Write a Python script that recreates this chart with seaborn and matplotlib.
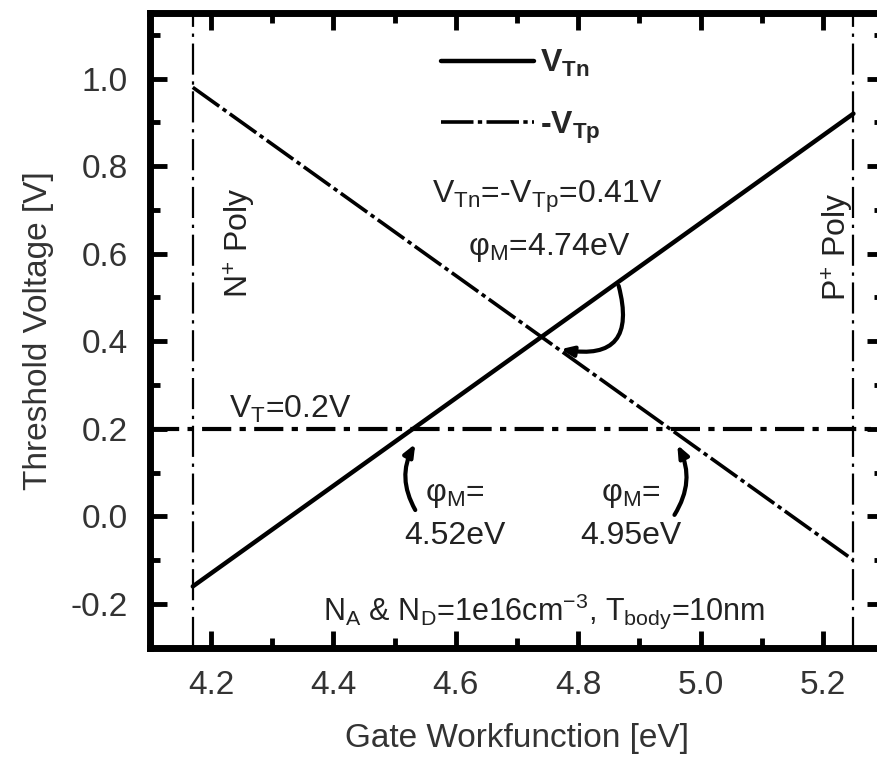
import numpy as np
import pandas as pd
import matplotlib
matplotlib.use("Agg")
import matplotlib.pyplot as plt
import seaborn as sns

sns.set_theme(style="ticks")
plt.rcParams['font.family'] = ['Liberation Sans', 'DejaVu Sans']
plt.rcParams['mathtext.fontset'] = 'custom'
plt.rcParams['mathtext.rm'] = 'Liberation Sans'
plt.rcParams['mathtext.it'] = 'Liberation Sans:italic'
plt.rcParams['mathtext.bf'] = 'Liberation Sans:bold'
plt.rcParams['mathtext.default'] = 'regular'

''' Data read off the figure '''
phi_m = [4.17, 4.52, 4.74, 4.95, 5.25]
v_tn = [-0.16, 0.19, 0.41, 0.62, 0.92]
neg_v_tp = [0.98, 0.63, 0.41, 0.20, -0.10]
v_t_target = 0.2
n_poly = 4.17
p_poly = 5.25
x_ticks = [4.2, 4.4, 4.6, 4.8, 5.0, 5.2]
y_ticks = [-0.2, 0.0, 0.2, 0.4, 0.6, 0.8, 1.0]

df = pd.DataFrame({'phi': phi_m, 'vtn': v_tn, 'vtp': neg_v_tp})

fig = plt.figure(figsize=(8.77, 7.62), dpi=100)
ax = fig.add_axes([0.171, 0.150, 0.837, 0.833])

sns.lineplot(data=df, x='phi', y='vtn', color='black', lw=3.2, ax=ax,
             label=r'$\mathbf{V_{Tn}}$')
sns.lineplot(data=df, x='phi', y='vtp', color='black', lw=2.6, ax=ax,
             label=r'-$\mathbf{V_{Tp}}$', dashes=False)
ax.lines[1].set_dashes([9, 1.2, 1.2, 1.2])

# reference lines
ax.axhline(v_t_target, color='black', lw=3, dashes=[7, 2, 1.5, 2])
for xv in (n_poly, p_poly):
    ax.axvline(xv, color='black', lw=1.6, dashes=[14, 3, 1.5, 3])

ax.set_xlim(4.1, 5.3)
ax.set_ylim(-0.3, 1.15)
ax.set_xticks(x_ticks)
ax.set_yticks(y_ticks)
ax.set_xticks(np.arange(4.1, 5.31, 0.1), minor=True)
ax.set_yticks(np.arange(-0.3, 1.16, 0.1), minor=True)
ax.set_xticklabels(['%.1f' % v for v in x_ticks])
ax.set_yticklabels(['%.1f' % v for v in y_ticks])
ax.tick_params(which='both', direction='in', top=True, right=True,
               labelsize=24, width=3.5, colors='black', labelcolor='#333333')
ax.tick_params(which='major', length=12, pad=16)
ax.tick_params(which='minor', length=7)
for s in ax.spines.values():
    s.set_linewidth(5)
    s.set_color('black')

ax.set_xlabel('Gate Workfunction [eV]', fontsize=24, color='#333333', labelpad=16)
ax.set_ylabel('Threshold Voltage [V]', fontsize=24, color='#333333', labelpad=12)

leg = ax.legend(loc='upper left', bbox_to_anchor=(0.375, 0.97), frameon=False,
                prop={'weight': 'bold', 'size': 23}, handlelength=2.9,
                handletextpad=0.2, labelspacing=0.95, borderpad=0)

tc = '#222222'
ax.text(4.247, 0.626, 'N$^{+}$ Poly', rotation=90, fontsize=23, color=tc,
        ha='center', va='center')
ax.text(5.225, 0.615, 'P$^{+}$ Poly', rotation=90, fontsize=23, color=tc,
        ha='center', va='center')
ax.text(4.75, 0.73, 'V$_{Tn}$=-V$_{Tp}$=0.41V', fontsize=23, color=tc,
        ha='center', va='center')
ax.text(4.753, 0.615, 'φ$_{M}$=4.74eV', fontsize=23, color=tc,
        ha='center', va='center')
ax.text(4.23, 0.245, 'V$_{T}$=0.2V', fontsize=23, color=tc,
        ha='left', va='center')
ax.text(4.598, 0.049, 'φ$_{M}$=', fontsize=23, color=tc, ha='center', va='center')
ax.text(4.598, -0.044, '4.52eV', fontsize=23, color=tc, ha='center', va='center')
ax.text(4.886, 0.049, 'φ$_{M}$=', fontsize=23, color=tc, ha='center', va='center')
ax.text(4.886, -0.044, '4.95eV', fontsize=23, color=tc, ha='center', va='center')
ax.text(4.745, -0.217, 'N$_{A}$ & N$_{D}$=1e16cm$^{-3}$, T$_{body}$=10nm',
        fontsize=22, color=tc, ha='center', va='center')

# curved arrows
aprops = dict(arrowstyle='-|>,head_length=0.6,head_width=0.25', color='black', lw=3)
ax.annotate('', xy=(4.767, 0.383), xytext=(4.865, 0.533),
            arrowprops=dict(aprops, connectionstyle='arc3,rad=-0.8'))
ax.annotate('', xy=(4.536, 0.171), xytext=(4.536, 0.009),
            arrowprops=dict(aprops, connectionstyle='arc3,rad=-0.3'))
ax.annotate('', xy=(4.96, 0.169), xytext=(4.955, -0.002),
            arrowprops=dict(aprops, connectionstyle='arc3,rad=0.3'))

plt.savefig('out.png', dpi=100)
plt.close()
